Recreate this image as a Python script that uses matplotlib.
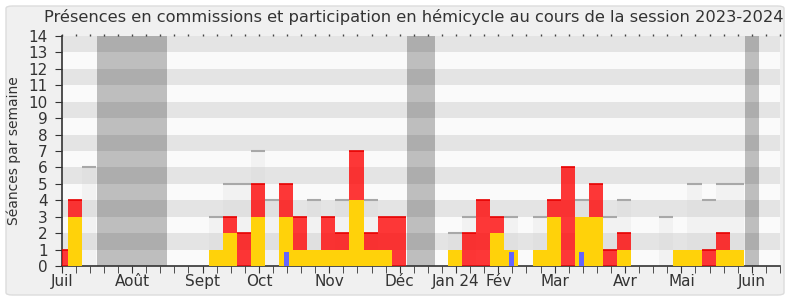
import numpy as np
import matplotlib
matplotlib.use("Agg")
import matplotlib.pyplot as plt
from matplotlib.patches import FancyBboxPatch

# one value per week, July 2023 -> June 2024
weeks = np.arange(52)
seances = [0, 0, 6, 0, 0, 0, 0, 0, 0, 0,
           0, 3, 5, 5, 7, 4, 0, 0, 4, 0,
           4, 0, 4, 0, 0, 0, 0, 0, 2, 3,
           0, 0, 3, 0, 3, 0, 0, 4, 0, 3,
           4, 0, 0, 3, 0, 5, 4, 5, 5, 0,
           0, 0]
commission = [1, 4, 0, 0, 0, 0, 0, 0, 0, 0,
              0, 0, 3, 2, 5, 0, 5, 3, 0, 3,
              2, 7, 2, 3, 3, 0, 0, 0, 0, 2,
              4, 3, 0, 0, 0, 4, 6, 0, 5, 1,
              2, 0, 0, 0, 0, 0, 1, 2, 0, 0,
              0, 0]
hemicycle = [0, 3, 0, 0, 0, 0, 0, 0, 0, 0,
             0, 1, 2, 0, 3, 0, 3, 1, 1, 1,
             1, 4, 1, 1, 0, 0, 0, 0, 1, 0,
             0, 2, 1, 0, 1, 3, 0, 3, 3, 0,
             1, 0, 0, 0, 1, 1, 0, 1, 1, 0,
             0, 0]
questions = [0] * 52
questions[16] = 0.85
questions[32] = 0.85
questions[37] = 0.85

month_pos = [0, 5, 10, 14, 19, 24, 28, 31, 35, 40, 44, 49]
month_labels = ["Juil", "Août", "Sept", "Oct", "Nov", "Déc",
                "Jan 24", "Fév", "Mar", "Avr", "Mai", "Juin"]
vacances = [(2.5, 7.5), (24.5, 26.5), (48.5, 49.5)]

W, H = 790, 300
fig = plt.figure(figsize=(W / 100, H / 100), dpi=100, facecolor="white")
fig.patches.append(FancyBboxPatch((6 / W, 5 / H), 778 / W, 289 / H,
                                  boxstyle="round,pad=0,rounding_size=0.008",
                                  transform=fig.transFigure, facecolor="#f0f0f0",
                                  edgecolor="#dcdcdc", lw=1, zorder=-10))

ax = fig.add_axes([61.7 / W, 34 / H, (780 - 61.7) / W, (266 - 36) / H])
ax.set_facecolor("#fafafa")
for k in range(1, 14, 2):
    ax.axhspan(k, k + 1, color="#e4e4e4", lw=0, zorder=0)
for a, b in vacances:
    ax.axvspan(a, b, color="black", alpha=0.24, lw=0, zorder=1)

x = weeks - 0.07
s = np.array(seances, dtype=float)
ax.bar(x, s, width=1, color="#d0d0d0", alpha=0.18, lw=0, zorder=2)
m = s > 0
ax.hlines(s[m], x[m] - 0.5, x[m] + 0.5, colors="#a8a8a8", lw=1.5, zorder=2)

c = np.array(commission, dtype=float)
ax.bar(x, c, width=1, color="#ff0000", alpha=0.78, lw=0, zorder=3)
m = c > 0
ax.hlines(c[m], x[m] - 0.5, x[m] + 0.5, colors="#e60000", lw=1.2, zorder=3)

ax.bar(x, hemicycle, width=1, color="#ffd20a", lw=0, zorder=4)
ax.bar(x, questions, width=0.36, color="#6464ff", lw=0, zorder=5)

ax.set_xlim(0, 51)
ax.set_ylim(0, 14)
ax.set_yticks(range(15))
ax.set_xticks(month_pos)
ax.set_xticklabels(month_labels)
ax.set_xticks(weeks, minor=True)
for sp in ["top", "right"]:
    ax.spines[sp].set_visible(False)
for sp in ["left", "bottom"]:
    ax.spines[sp].set_color("#333333")
    ax.spines[sp].set_linewidth(1.2)
ax.tick_params(axis="y", length=5, color="#333333", labelcolor="#333333",
               labelsize=11, pad=5)
ax.tick_params(axis="x", which="both", length=5, color="#333333",
               labelcolor="#333333", labelsize=11, pad=1)
ax.set_ylabel("Séances par semaine", fontsize=10, color="#333333", labelpad=5)

# tiny dotted ticks along the top edge
top = ax.secondary_xaxis("top")
top.set_xticks(weeks)
top.set_xticklabels([])
top.tick_params(length=1.5, width=1, color="#444444")
top.spines["top"].set_visible(False)

fig.text(413.5 / W, 1 - 17 / H,
         "Présences en commissions et participation en hémicycle au cours de la session 2023-2024",
         ha="center", va="center", fontsize=11.7, color="#333333")

fig.savefig("out.png", dpi=100, facecolor=fig.get_facecolor())
